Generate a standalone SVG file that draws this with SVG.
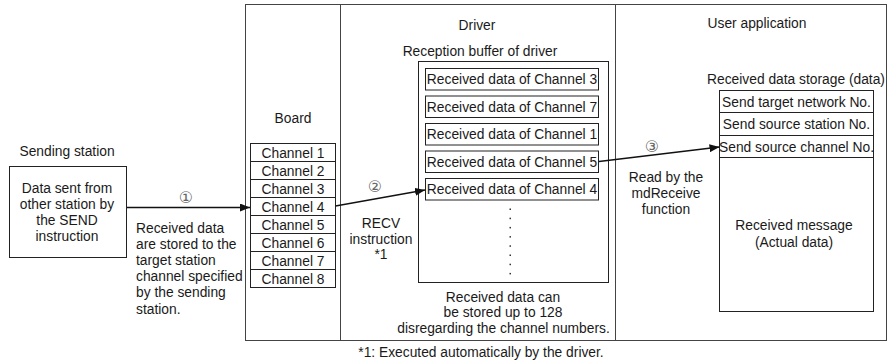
<svg xmlns="http://www.w3.org/2000/svg" width="894" height="364" viewBox="0 0 894 364">
<style>
text{font-family:"Liberation Sans",Arial,sans-serif;font-size:13.8px;fill:#1a1a1a}
.c{text-anchor:middle}
.num{font-family:"DejaVu Sans",sans-serif;font-size:16px;fill:#666;text-anchor:middle}
.box{fill:#fff;stroke:#222;stroke-width:1}
.frame{fill:none;stroke:#444;stroke-width:1}
.ln{stroke:#111;stroke-width:1.3;fill:none}
</style>
<defs>
<marker id="ah" markerWidth="10" markerHeight="8" refX="10" refY="4" orient="auto" markerUnits="userSpaceOnUse">
<path d="M0,0 L10,4 L0,8 Z" fill="#111"/>
</marker>
</defs>
<rect width="894" height="364" fill="#fff"/>
<g id="frame">
<rect class="frame" x="245.5" y="4.5" width="641" height="336"/>
<line class="frame" x1="340.5" y1="4.5" x2="340.5" y2="340.5"/>
<line class="frame" x1="615.5" y1="4.5" x2="615.5" y2="340.5"/>
</g>
<g id="sending-station">
<text class="c" x="67" y="155.5">Sending station</text>
<rect class="box" x="9.5" y="166.5" width="117" height="91"/>
<text class="c" x="67" y="193">Data sent from</text>
<text class="c" x="67" y="209">other station by</text>
<text class="c" x="67" y="225">the SEND</text>
<text class="c" x="67" y="241">instruction</text>
</g>
<g id="label-step1">
<text class="num" x="186" y="202.5">①</text>
<text x="136" y="233">Received data</text>
<text x="136" y="249">are stored to the</text>
<text x="136" y="265">target station</text>
<text x="136" y="281">channel specified</text>
<text x="136" y="297">by the sending</text>
<text x="136" y="313.5">station.</text>
</g>
<g id="board">
<text class="c" x="293" y="123">Board</text>
<rect class="box" x="250.5" y="143.5" width="85" height="144"/>
<line class="box" x1="250.5" y1="161.5" x2="335.5" y2="161.5"/>
<line class="box" x1="250.5" y1="179.5" x2="335.5" y2="179.5"/>
<line class="box" x1="250.5" y1="197.5" x2="335.5" y2="197.5"/>
<line class="box" x1="250.5" y1="215.5" x2="335.5" y2="215.5"/>
<line class="box" x1="250.5" y1="233.5" x2="335.5" y2="233.5"/>
<line class="box" x1="250.5" y1="251.5" x2="335.5" y2="251.5"/>
<line class="box" x1="250.5" y1="269.5" x2="335.5" y2="269.5"/>
<text class="c" x="293" y="157.5">Channel 1</text>
<text class="c" x="293" y="175.5">Channel 2</text>
<text class="c" x="293" y="193.5">Channel 3</text>
<text class="c" x="293" y="211.5">Channel 4</text>
<text class="c" x="293" y="229.5">Channel 5</text>
<text class="c" x="293" y="247.5">Channel 6</text>
<text class="c" x="293" y="265.5">Channel 7</text>
<text class="c" x="293" y="283.5">Channel 8</text>
</g>
<g id="label-step2">
<text class="num" x="375" y="191.5">②</text>
<text class="c" x="381" y="228">RECV</text>
<text class="c" x="381" y="244">instruction</text>
<text class="c" x="381" y="259">*1</text>
</g>
<g id="driver">
<text class="c" x="477" y="30">Driver</text>
<text class="c" x="480" y="55.5">Reception buffer of driver</text>
<rect class="box" x="418.5" y="61.5" width="190" height="221"/>
<rect class="box" x="425.5" y="68.5" width="173" height="21.5"/>
<rect class="box" x="425.5" y="96" width="173" height="21.5"/>
<rect class="box" x="425.5" y="123.5" width="173" height="21.5"/>
<rect class="box" x="425.5" y="151" width="173" height="21.5"/>
<rect class="box" x="425.5" y="178.5" width="173" height="21.5"/>
<text class="c" x="512" y="84">Received data of Channel 3</text>
<text class="c" x="512" y="111.5">Received data of Channel 7</text>
<text class="c" x="512" y="139">Received data of Channel 1</text>
<text class="c" x="512" y="166.5">Received data of Channel 5</text>
<text class="c" x="512" y="194">Received data of Channel 4</text>
<g fill="#333">
<rect x="509.5" y="208.5" width="1.5" height="1.5"/>
<rect x="509.5" y="217.7" width="1.5" height="1.5"/>
<rect x="509.5" y="226.9" width="1.5" height="1.5"/>
<rect x="509.5" y="236.1" width="1.5" height="1.5"/>
<rect x="509.5" y="245.3" width="1.5" height="1.5"/>
<rect x="509.5" y="254.5" width="1.5" height="1.5"/>
<rect x="509.5" y="263.7" width="1.5" height="1.5"/>
<rect x="509.5" y="272.9" width="1.5" height="1.5"/>
</g>
<text class="c" x="503" y="301.5">Received data can</text>
<text class="c" x="503" y="317">be stored up to 128</text>
<text class="c" x="503.5" y="333">disregarding the channel numbers.</text>
</g>
<g id="label-step3">
<text class="num" x="652" y="151.5">③</text>
<text class="c" x="666" y="181.5">Read by the</text>
<text class="c" x="666" y="198">mdReceive</text>
<text class="c" x="666" y="214">function</text>
</g>
<g id="user-application">
<text class="c" x="757" y="28">User application</text>
<text class="c" x="796" y="84">Received data storage (data)</text>
<rect class="box" x="719.5" y="90.5" width="154" height="221"/>
<line class="box" x1="719.5" y1="112.5" x2="873.5" y2="112.5"/>
<line class="box" x1="719.5" y1="135.5" x2="873.5" y2="135.5"/>
<line class="box" x1="719.5" y1="157.5" x2="873.5" y2="157.5"/>
<text class="c" x="796.5" y="106.5">Send target network No.</text>
<text class="c" x="796.5" y="129">Send source station No.</text>
<text class="c" x="796.5" y="151.5">Send source channel No.</text>
<text class="c" x="794" y="230">Received message</text>
<text class="c" x="794" y="246.5">(Actual data)</text>
</g>
<g id="connectors">
<line class="ln" x1="127" y1="207.5" x2="250" y2="207.5" marker-end="url(#ah)"/>
<line class="ln" x1="335.5" y1="206" x2="425" y2="190" marker-end="url(#ah)"/>
<line class="ln" x1="599" y1="161.5" x2="719.5" y2="147" marker-end="url(#ah)"/>
</g>
<g id="footnote">
<text class="c" x="481" y="356.5">*1: Executed automatically by the driver.</text>
</g>
</svg>
